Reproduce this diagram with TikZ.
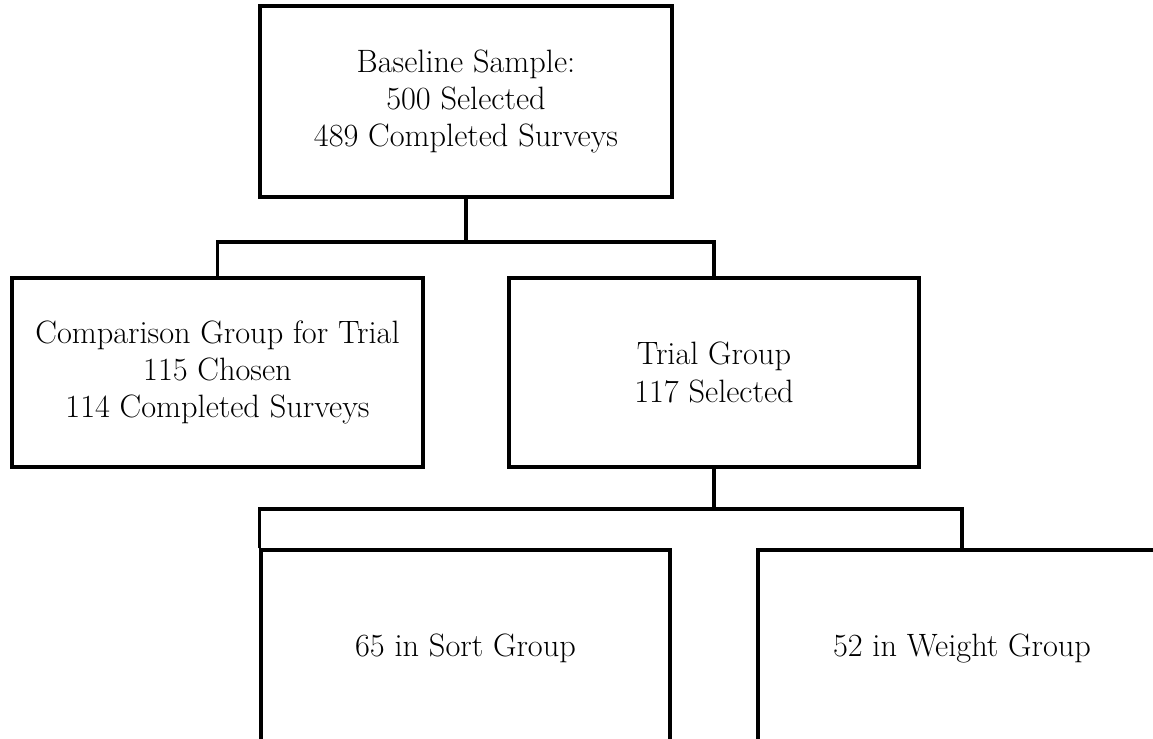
\documentclass[tikz,border=0pt]{standalone}
\usepackage{fontspec}
\usetikzlibrary{positioning,calc}

\begin{document}
\begin{tikzpicture}[x=0.025cm,y=-0.025cm,
  box/.style={draw,line width=2.4pt,align=center,inner sep=0pt,
    font=\fontsize{23}{26.5}\selectfont},
  link/.style={line width=2.4pt}]
\useasboundingbox (0,0) rectangle (1153,738);
\clip (0,0) rectangle (1153,738);
\node[box,minimum width=10.3cm,minimum height=4.78cm] (baseline) at (466,101.5) {Baseline Sample:\\500 Selected\\489 Completed Surveys};
\node[box,minimum width=10.27cm,minimum height=4.72cm] (comparison) at (217.5,372.5) {Comparison Group for Trial\\115 Chosen\\114 Completed Surveys};
\node[box,minimum width=10.25cm,minimum height=4.72cm] (trial) at (714,372.5) {Trial Group\\117 Selected};
\node[box,minimum width=10.22cm,minimum height=4.9cm] (sort) at (465.5,648) {65 in Sort Group};
\node[box,minimum width=10.2cm,minimum height=4.9cm] (weight) at (962,648) {52 in Weight Group};
\coordinate (fork1) at (466,242);
\coordinate (fork2) at (714,509);
\draw[link] (baseline.south)--(fork1);
\draw[link] (comparison.north)|-(fork1)-|(trial.north);
\draw[link] (trial.south)--(fork2);
\draw[link] (sort.north west)|-(fork2)-|(weight.north);
\end{tikzpicture}
\end{document}
